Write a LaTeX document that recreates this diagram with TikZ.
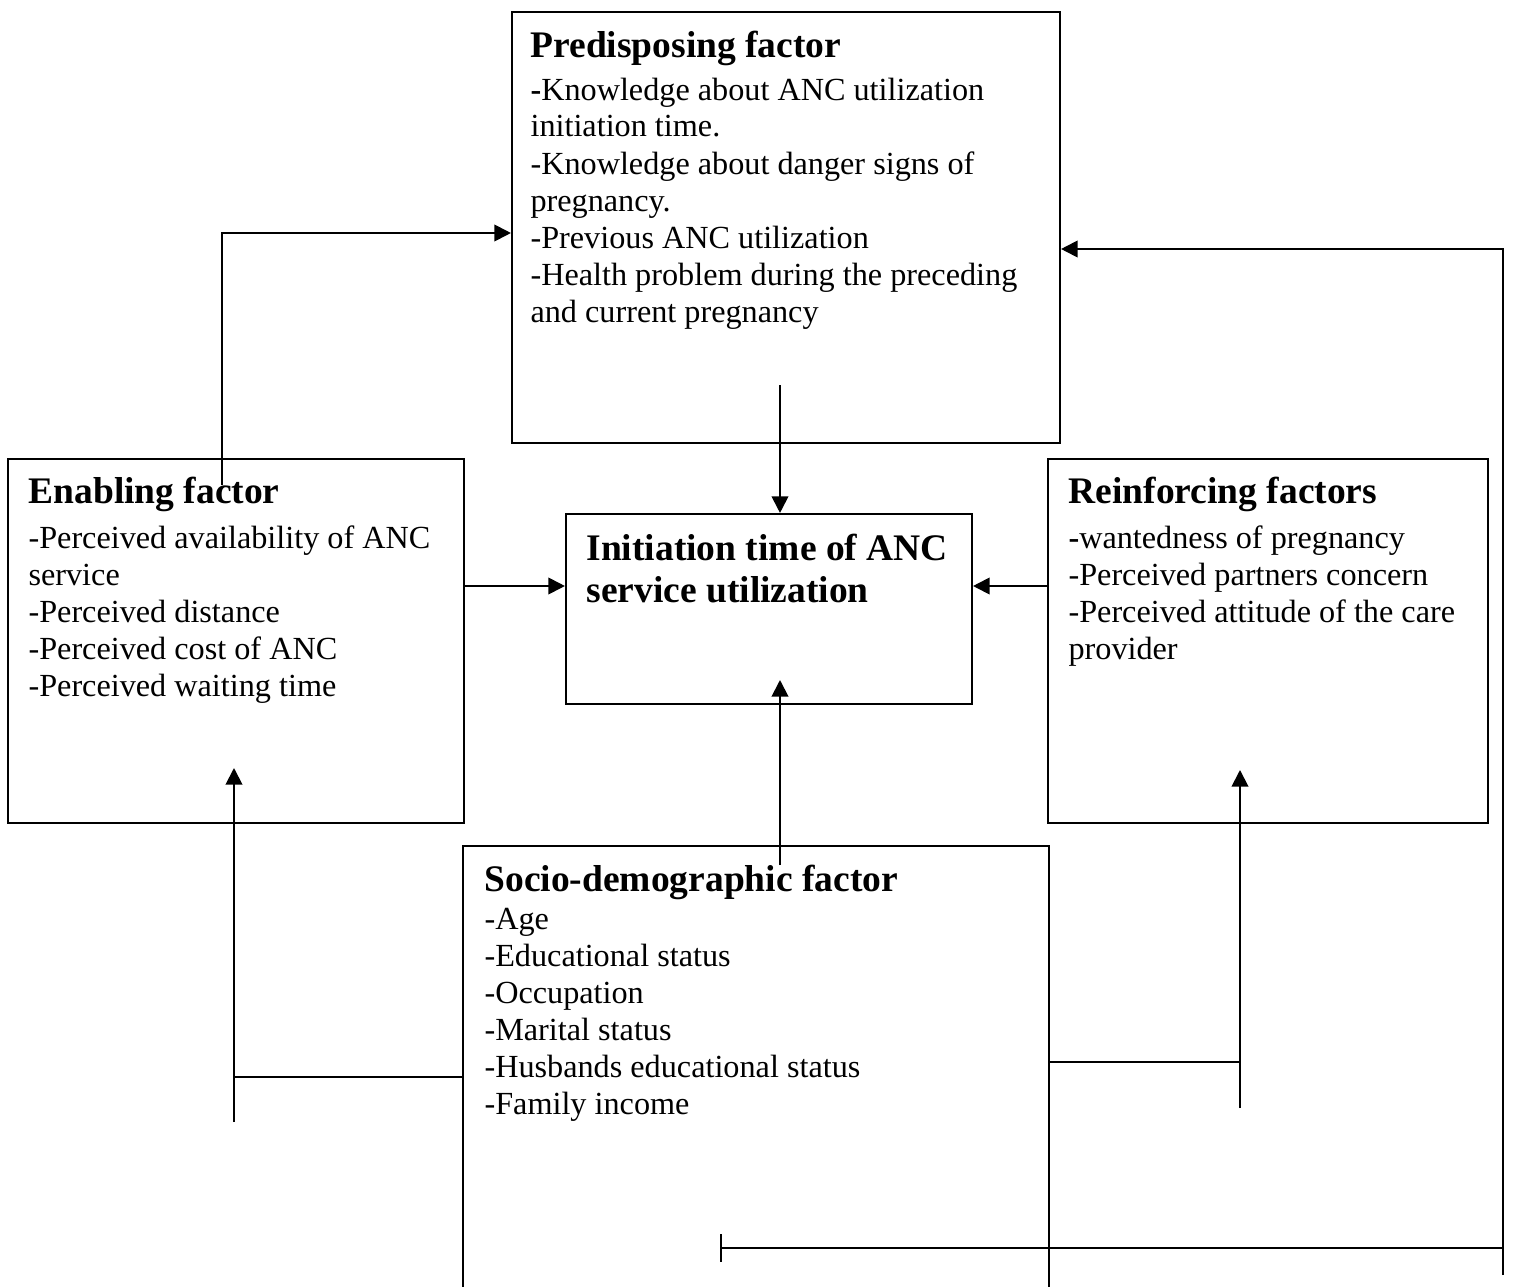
\documentclass[tikz,border=0pt]{standalone}
\usepackage{fontspec}
\setmainfont{Liberation Serif}
\usetikzlibrary{arrows.meta,fit}
\tikzset{
  box/.style={draw, line width=0.75pt, inner sep=0pt},
  arr/.style={line width=0.7pt, -{Triangle[length=6pt,width=6pt]}},
  conn/.style={line width=0.7pt},
  head/.style={anchor=base west, inner sep=0pt, font=\fontsize{13.5}{16}\selectfont\bfseries},
  body/.style={anchor=base west, inner sep=0pt, font=\fontsize{11.6}{13.3}\selectfont},
}
\begin{document}
\begin{tikzpicture}[x=0.36pt, y=-0.36pt]
\useasboundingbox (0,0) rectangle (1513,1287);
% boxes
\node[box, fit={(512,12) (1060,443)}] (pre) {};
\node[box, fit={(8,459) (464,823)}] (ena) {};
\node[box, fit={(566,514) (972,704)}] (ini) {};
\node[box, fit={(1048,459) (1488,823)}] (rei) {};
\node[inner sep=0pt, fit={(464,847) (1048,1287)}] (soc) {};
\draw[line width=0.75pt] (soc.south west) -- (soc.north west) -- (soc.north east) -- (soc.south east);

% texts: predisposing
\node[head] (preh) at (530,57) {Predisposing factor};
\foreach \t [count=\i] in {{{\bfseries -}Knowledge about ANC utilization},{initiation time.},{-Knowledge about danger signs of},{pregnancy.},{-Previous ANC utilization},{-Health problem during the preceding},{and current pregnancy}}
  \node[body] (pre\i) at (530,{63+37*\i}) {\t};
% enabling
\node[head] (enah) at (28,503) {Enabling factor};
\foreach \t [count=\i] in {{-Perceived availability of ANC},{service},{-Perceived distance},{-Perceived cost of ANC},{-Perceived waiting time}}
  \node[body] (ena\i) at (28,{511+37*\i}) {\t};
% initiation
\node[head] (ini1) at (586,560) {Initiation time of ANC};
\node[head] (ini2) at (586,602) {service utilization};
% reinforcing
\node[head] (reih) at (1068,503) {Reinforcing factors};
\foreach \t [count=\i] in {{{\bfseries -}wantedness of pregnancy},{-Perceived partners concern},{-Perceived attitude of the care},{provider}}
  \node[body] (rei\i) at (1068,{511+37*\i}) {\t};
% socio-demographic
\node[head] (soch) at (484,891) {Socio-demographic factor};
\foreach \t [count=\i] in {{-Age},{-Educational status},{-Occupation},{-Marital status},{-Husbands educational status},{-Family income}}
  \node[body] (soc\i) at (484,{892+37*\i}) {\t};

% connector coordinates
\coordinate (e1) at (222,485);
\coordinate (y233) at (0,233);
\coordinate (y586) at (0,586);
\coordinate (p1) at (780,385);
\coordinate (s1) at (780,865);
\coordinate (i1) at (780,680);
\coordinate (y1077) at (0,1077);
\coordinate (y1062) at (0,1062);
\coordinate (a1) at (234,1077);
\coordinate (a2) at (234,1122);
\coordinate (a3) at (234,768);
\coordinate (b1) at (1240,1062);
\coordinate (b2) at (1240,1108);
\coordinate (b3) at (1240,770);
\coordinate (c1) at (720,1248);
\coordinate (c2) at (1503,1248);
\coordinate (c3) at (1503,1275);
\coordinate (c4) at (1503,249);

% connectors
\draw[arr] (e1) |- (pre.west |- y233);
\draw[arr] (p1) -- (p1 |- ini.north);
\draw[arr] (ena.east |- y586) -- (ini.west |- y586);
\draw[arr] (rei.west |- y586) -- (ini.east |- y586);
\draw[arr] (s1) -- (i1);
\draw[conn] (soc.west |- y1077) -- (a1);
\draw[arr] (a2) -- (a3);
\draw[conn] (soc.east |- y1062) -- (b1);
\draw[arr] (b2) -- (b3);
\draw[conn, {Bar[width=10pt]}-] (c1) -- (c2);
\draw[arr] (c3) -- (c4) -- (pre.east |- c4);
\end{tikzpicture}
\end{document}
